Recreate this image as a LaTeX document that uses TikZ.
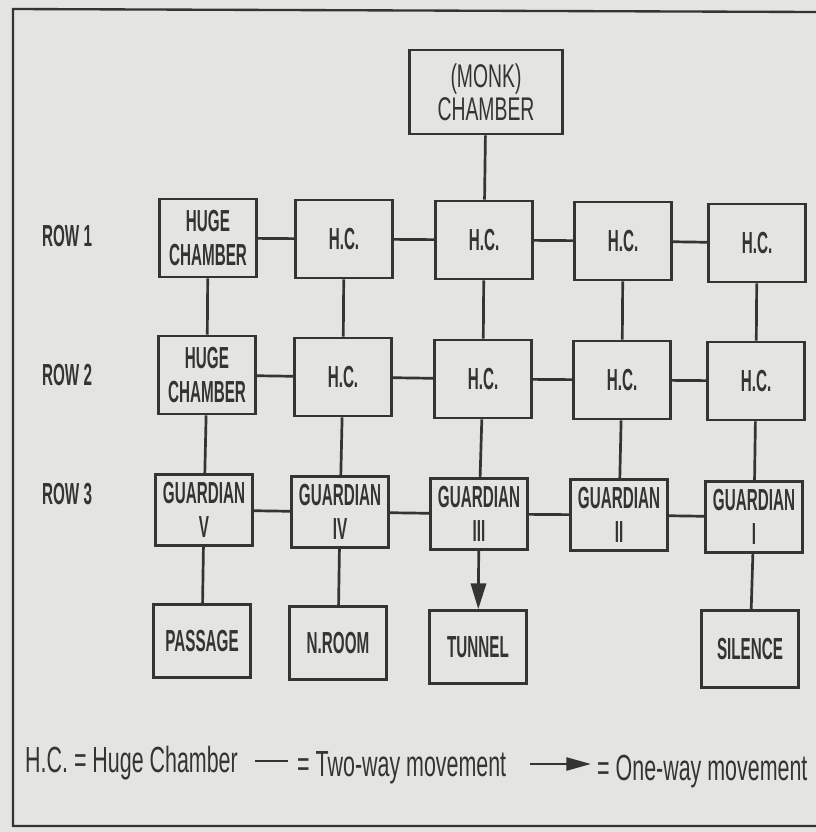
\documentclass[tikz,border=0pt]{standalone}
\usepackage{fontspec}
\setmainfont[FakeStretch=0.59]{Liberation Sans}
\newfontfamily\heavycond[FakeStretch=0.5]{Liberation Sans}
\usetikzlibrary{positioning, arrows.meta}
\definecolor{paper}{RGB}{228,228,224}
\definecolor{ink}{RGB}{52,52,52}

\begin{document}
\begin{tikzpicture}[
		x=0.03cm, y=-0.03cm,
		room/.style={draw=ink, fill=paper, line width=2.3pt, minimum width=2.92cm, minimum height=2.34cm,
			align=center, text=ink, inner sep=1pt, font=\heavycond\bfseries\fontsize{26}{29}\selectfont},
		guard/.style={room, minimum height=2.13cm},
		outlet/.style={room, minimum height=2.19cm},
		link/.style={draw=ink, line width=2.3pt},
		oneway/.style={link, -{Triangle[length=22pt, width=13pt]}},
		rowlabel/.style={anchor=west, text=ink, font=\heavycond\bfseries\fontsize{26}{28}\selectfont},
		legend/.style={anchor=base west, text=ink, font=\fontsize{31}{34}\selectfont, inner sep=0pt}
		]
		
		% page and frame
		\fill[paper] (0,0) rectangle (816,832);
		\useasboundingbox (0,0) rectangle (816,832);
		\draw[ink, line width=2pt] (816,12) -- (13,9) -- (13,826) -- (816,826);
		
		% ==========================================
		% Monk chamber
		% ==========================================
		\node[room, minimum width=4.6cm, minimum height=2.52cm, font=\fontsize{28}{28}\selectfont] (monk) at (486, 92) {(MONK)\\CHAMBER};
		
		% ==========================================
		% Row labels
		% ==========================================
		\node[rowlabel] (lab1) at (38, 236) {ROW 1};
		\node[rowlabel] (lab2) at (38, 375) {ROW 2};
		\node[rowlabel] (lab3) at (38, 494) {ROW 3};
		
		% ==========================================
		% Row 1 and Row 2: huge chambers
		% ==========================================
		\node[room] (hc11) at (208, 238) {HUGE\\CHAMBER};
		\node[room] (hc12) at (344, 239) {H.C.};
		\node[room] (hc13) at (484, 240) {H.C.};
		\node[room] (hc14) at (623, 241) {H.C.};
		\node[room] (hc15) at (757, 243) {H.C.};
		
		\node[room] (hc21) at (207, 375) {HUGE\\CHAMBER};
		\node[room] (hc22) at (343, 377) {H.C.};
		\node[room] (hc23) at (483, 379) {H.C.};
		\node[room] (hc24) at (622, 380) {H.C.};
		\node[room] (hc25) at (756, 381) {H.C.};
		
		% ==========================================
		% Row 3: guardians
		% ==========================================
		\node[guard] (g5) at (204, 510) {GUARDIAN\\V};
		\node[guard] (g4) at (340, 512) {GUARDIAN\\IV};
		\node[guard] (g3) at (479, 514) {GUARDIAN\\III};
		\node[guard] (g2) at (619, 515) {GUARDIAN\\II};
		\node[guard] (g1) at (754, 517) {GUARDIAN\\I};
		
		% Exits
		\node[outlet] (passage) at (202, 641) {PASSAGE};
		\node[outlet] (nroom) at (338, 643) {N.ROOM};
		\node[outlet] (tunnel) at (478, 647) {TUNNEL};
		\node[outlet, minimum height=2.31cm] (silence) at (750, 649) {SILENCE};
		
		% ==========================================
		% Connections
		% ==========================================
		\draw[link] (monk) -- (hc13);
		\foreach \a/\b in {11/12, 12/13, 13/14, 14/15, 21/22, 22/23, 23/24, 24/25}
			\draw[link] (hc\a) -- (hc\b);
		\foreach \c in {1,...,5}
			\draw[link] (hc1\c) -- (hc2\c);
		\foreach \c/\g in {1/5, 2/4, 3/3, 4/2, 5/1}
			\draw[link] (hc2\c) -- (g\g);
		\foreach \a/\b in {5/4, 4/3, 3/2, 2/1}
			\draw[link] (g\a) -- (g\b);
		\draw[link] (g5) -- (passage);
		\draw[link] (g4) -- (nroom);
		\draw[oneway] (g3) -- (tunnel);
		\draw[link] (g1) -- (silence);
		
		% ==========================================
		% Legend
		% ==========================================
		\node[legend] (key1) at (25, 772) {H.C. = Huge Chamber};
		\coordinate (tw1) at (255, 761);
		\coordinate (tw2) at (288, 761);
		\draw[link] (tw1) -- (tw2);
		\node[legend] (key2) at (297, 776) {= Two-way movement};
		\coordinate (ow1) at (530, 764);
		\coordinate (ow2) at (591, 764);
		\draw[link, -{Triangle[length=21pt, width=11pt]}] (ow1) -- (ow2);
		\node[legend] (key3) at (597, 780) {= One-way movement};
		
	\end{tikzpicture}
\end{document}
